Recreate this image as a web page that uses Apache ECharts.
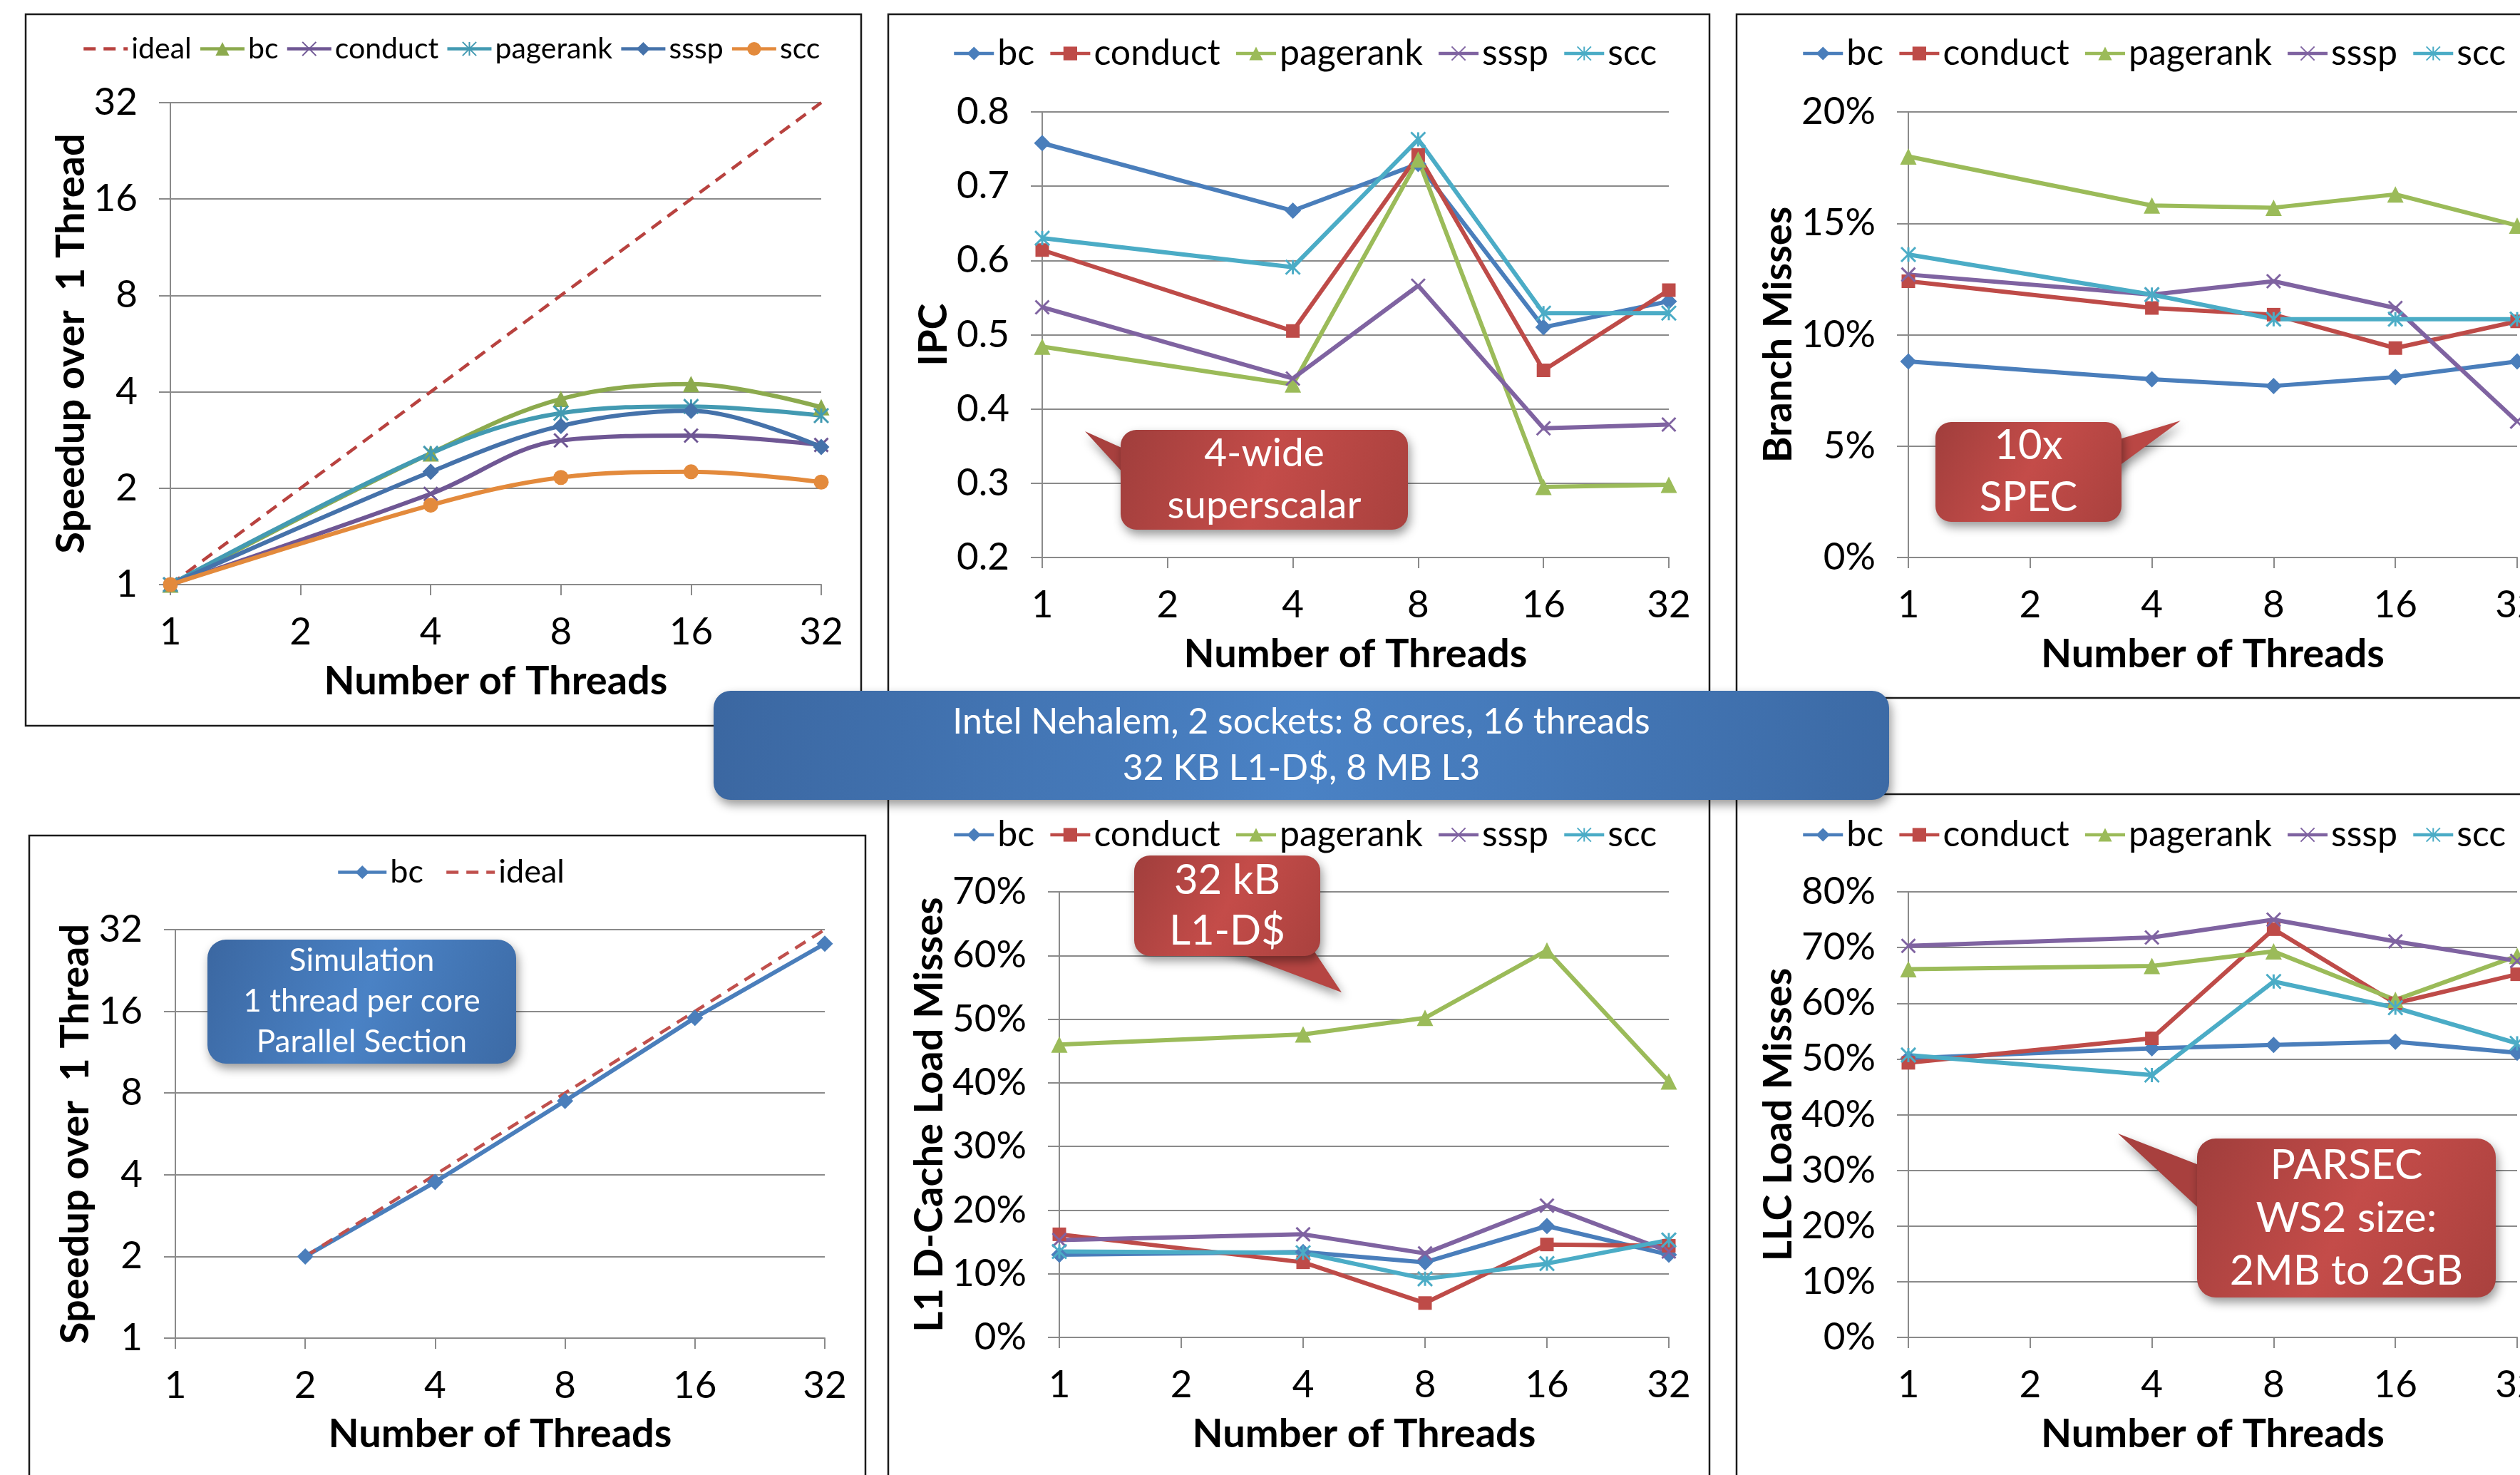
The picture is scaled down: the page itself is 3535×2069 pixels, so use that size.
<!DOCTYPE html>
<html>
<head>
<meta charset="utf-8">
<script src="https://cdn.jsdelivr.net/npm/echarts@6/dist/echarts.min.js"></script>
<style>
  html, body { margin: 0; padding: 0; background: #fff; }
  #chart { width: 3535px; height: 2069px; }
</style>
</head>
<body>
<div id="chart"></div>
<script>
// ---- shared x categories: thread counts ----
const threadTicks = ['1', '2', '4', '8', '16', '32'];

// ---- Speedup over 1 thread (native Nehalem runs) ----
const speedIdeal    = [1, 2, 4, 8, 16, 32];
const speedBc       = [1, null, 2.57, 3.80, 4.23, 3.58];
const speedConduct  = [1, null, 1.92, 2.82, 2.92, 2.73];
const speedPagerank = [1, null, 2.57, 3.43, 3.60, 3.37];
const speedSssp     = [1, null, 2.25, 3.13, 3.49, 2.69];
const speedScc      = [1, null, 1.77, 2.16, 2.25, 2.09];

// ---- IPC ----
const ipcBc       = [0.758, null, 0.667, 0.730, 0.510, 0.545];
const ipcConduct  = [0.614, null, 0.505, 0.742, 0.452, 0.560];
const ipcPagerank = [0.484, null, 0.433, 0.736, 0.295, 0.298];
const ipcSssp     = [0.537, null, 0.441, 0.566, 0.374, 0.379];
const ipcScc      = [0.630, null, 0.591, 0.763, 0.529, 0.529];

// ---- Branch misses (%) ----
const brBc       = [8.8, null, 8.0, 7.7, 8.1, 8.8];
const brConduct  = [12.4, null, 11.2, 10.9, 9.4, 10.6];
const brPagerank = [18.0, null, 15.8, 15.7, 16.3, 14.9];
const brSssp     = [12.7, null, 11.8, 12.4, 11.2, 6.1];
const brScc      = [13.6, null, 11.8, 10.7, 10.7, 10.7];

// ---- Simulated speedup (parallel section, 1 thread per core) ----
const simBc    = [null, 2.0, 3.76, 7.48, 15.15, 28.4];
const simIdeal = [null, 2, 4, 8, 16, 32];

// ---- L1 D-cache load misses (%) ----
const l1Bc       = [13.0, null, 13.4, 11.8, 17.5, 13.0];
const l1Conduct  = [16.2, null, 11.8, 5.4, 14.6, 14.4];
const l1Pagerank = [46.0, null, 47.6, 50.2, 60.8, 40.2];
const l1Sssp     = [15.3, null, 16.2, 13.2, 20.7, 13.5];
const l1Scc      = [13.5, null, 13.3, 9.2, 11.6, 15.3];

// ---- LLC load misses (%) ----
const llcBc       = [50.1, null, 51.9, 52.5, 53.1, 51.1];
const llcConduct  = [49.3, null, 53.7, 73.3, 60.0, 65.2];
const llcPagerank = [66.1, null, 66.7, 69.3, 60.6, 68.5];
const llcSssp     = [70.3, null, 71.8, 75.0, 71.1, 67.6];
const llcScc      = [50.7, null, 47.1, 63.9, 59.2, 52.8];

// ---- styling ----
const FONT = 'Lato';
const GRID_GRAY = '#8a8a8a';
const COL = {
  blue: '#4A7EBB', red: '#BE4B48', green: '#9BBB59',
  purple: '#7F63A1', aqua: '#4BACC6', orange: '#F79646', ideal: '#C0504D'
};
// the speedup panel uses the deeper shade of the palette
const DEEP = {
  blue: '#4572AA', green: '#8CAA4E', purple: '#6F5794', aqua: '#439AB2', orange: '#E38A3C', ideal: '#B8423F'
};
const SYM = {
  diamond: 'diamond', square: 'rect', triangle: 'triangle', circle: 'circle',
  cross: 'path://M0,0L10,10M10,0L0,10',
  star: 'path://M0,0L10,10M10,0L0,10M5,0L5,10',
  none: 'none'
};
const SYM_SIZE = { diamond: 23, square: 19, triangle: 23, circle: 21, cross: 19, star: 20, none: 0 };

// one entry per panel: [label, data, color, symbol, dashed]
const panels = [
  {
    grid: { left: 239, top: 144, width: 913, height: 676 },
    y: { type: 'log', min: 1, max: 32, fmt: v => String(Math.round(v)) },
    yName: 'Speedup over  1 Thread', yGap: 108, xGap: 108, smooth: true,
    legend: { cx: 626, cy: 68, size: 41, iw: 62, gap: 10 },
    series: [
      ['ideal', speedIdeal, DEEP.ideal, 'none', true],
      ['bc', speedBc, DEEP.green, 'triangle'],
      ['conduct', speedConduct, DEEP.purple, 'cross'],
      ['pagerank', speedPagerank, DEEP.aqua, 'star'],
      ['sssp', speedSssp, DEEP.blue, 'diamond'],
      ['scc', speedScc, DEEP.orange, 'circle']
    ]
  },
  {
    grid: { left: 1462, top: 157, width: 879, height: 625 },
    y: { type: 'value', min: 0.2, max: 0.8, interval: 0.1, fmt: v => v.toFixed(1) },
    yName: 'IPC', yGap: 124, xGap: 108,
    legend: { cx: 1824, cy: 75, size: 50, iw: 56, gap: 20 },
    series: [
      ['bc', ipcBc, COL.blue, 'diamond'],
      ['conduct', ipcConduct, COL.red, 'square'],
      ['pagerank', ipcPagerank, COL.green, 'triangle'],
      ['sssp', ipcSssp, COL.purple, 'cross'],
      ['scc', ipcScc, COL.aqua, 'star']
    ]
  },
  {
    grid: { left: 2677, top: 157, width: 854, height: 625 },
    y: { type: 'value', min: 0, max: 20, interval: 5, fmt: v => v + '%' },
    yName: 'Branch Misses', yGap: 150, xGap: 108,
    legend: { cx: 3015, cy: 75, size: 50, iw: 56, gap: 20 },
    series: [
      ['bc', brBc, COL.blue, 'diamond'],
      ['conduct', brConduct, COL.red, 'square'],
      ['pagerank', brPagerank, COL.green, 'triangle'],
      ['sssp', brSssp, COL.purple, 'cross'],
      ['scc', brScc, COL.aqua, 'star']
    ]
  },
  {
    grid: { left: 246, top: 1304, width: 911, height: 573 },
    y: { type: 'log', min: 1, max: 32, fmt: v => String(Math.round(v)) },
    yName: 'Speedup over  1 Thread', yGap: 112, xGap: 107,
    legend: { cx: 630, cy: 1223, size: 45, iw: 68, gap: 30 },
    series: [
      ['bc', simBc, COL.blue, 'diamond'],
      ['ideal', simIdeal, COL.ideal, 'none', true]
    ]
  },
  {
    grid: { left: 1486, top: 1251, width: 855, height: 625 },
    y: { type: 'value', min: 0, max: 70, interval: 10, fmt: v => v + '%' },
    yName: 'L1 D-Cache Load Misses', yGap: 148, xGap: 108,
    legend: { cx: 1824, cy: 1171, size: 50, iw: 56, gap: 20 },
    series: [
      ['bc', l1Bc, COL.blue, 'diamond'],
      ['conduct', l1Conduct, COL.red, 'square'],
      ['pagerank', l1Pagerank, COL.green, 'triangle'],
      ['sssp', l1Sssp, COL.purple, 'cross'],
      ['scc', l1Scc, COL.aqua, 'star']
    ]
  },
  {
    grid: { left: 2677, top: 1251, width: 854, height: 625 },
    y: { type: 'value', min: 0, max: 80, interval: 10, fmt: v => v + '%' },
    yName: 'LLC Load Misses', yGap: 150, xGap: 108,
    legend: { cx: 3015, cy: 1171, size: 50, iw: 56, gap: 20 },
    series: [
      ['bc', llcBc, COL.blue, 'diamond'],
      ['conduct', llcConduct, COL.red, 'square'],
      ['pagerank', llcPagerank, COL.green, 'triangle'],
      ['sssp', llcSssp, COL.purple, 'cross'],
      ['scc', llcScc, COL.aqua, 'star']
    ]
  }
];

// text measurement, used to centre each legend over its panel
const measureCtx = document.createElement('canvas').getContext('2d');
function textWidth(str, size) {
  measureCtx.font = size + 'px ' + FONT;
  return measureCtx.measureText(str).width;
}

const grids = [], xAxes = [], yAxes = [], legends = [], series = [];
const TITLE_STYLE = { fontSize: 56, fontWeight: 'bold', fontFamily: FONT, color: '#000' };
const TICK_STYLE = { color: '#000', fontSize: 53, fontFamily: FONT };

panels.forEach((p, gi) => {
  grids.push(Object.assign({ outerBoundsMode: 'none', containLabel: false }, p.grid));

  xAxes.push({
    gridIndex: gi, type: 'category', data: threadTicks, boundaryGap: false,
    axisLine: { show: true, onZero: false, lineStyle: { color: GRID_GRAY, width: 2 } },
    axisTick: { show: true, length: 15, interval: 0, lineStyle: { color: GRID_GRAY, width: 2 } },
    axisLabel: Object.assign({ interval: 0, margin: 40 }, TICK_STYLE),
    splitLine: { show: false },
    name: 'Number of Threads', nameLocation: 'middle', nameGap: p.xGap,
    nameTextStyle: TITLE_STYLE
  });

  const y = {
    gridIndex: gi, type: p.y.type, min: p.y.min, max: p.y.max,
    axisLine: { show: true, onZero: false, lineStyle: { color: GRID_GRAY, width: 2 } },
    axisTick: { show: true, length: 16, lineStyle: { color: GRID_GRAY, width: 2 } },
    axisLabel: Object.assign({ margin: 46, formatter: p.y.fmt }, TICK_STYLE),
    splitLine: { show: true, lineStyle: { color: GRID_GRAY, width: 2 } },
    name: p.yName, nameLocation: 'middle', nameGap: p.yGap, nameRotate: 90,
    nameTextStyle: TITLE_STYLE
  };
  if (p.y.type === 'log') { y.logBase = 2; y.splitNumber = 5; }
  else { y.interval = p.y.interval; }
  yAxes.push(y);

  const legendData = [];
  p.series.forEach(([label, data, color, sym, dashed]) => {
    const id = label + '@' + gi;
    legendData.push(sym === 'none' ? { name: id, itemStyle: { opacity: 0 } } : { name: id });
    const stroked = sym === 'cross' || sym === 'star';
    series.push({
      type: 'line', name: id, xAxisIndex: gi, yAxisIndex: gi, data: data,
      connectNulls: true, smooth: p.smooth ? 0.35 : false,
      symbol: SYM[sym], symbolSize: SYM_SIZE[sym], showSymbol: sym !== 'none',
      lineStyle: { color: color, width: dashed ? 4.5 : 6, type: dashed ? [17, 11] : 'solid' },
      itemStyle: { color: color, borderColor: color, borderWidth: stroked ? 3 : 0 },
      emphasis: { disabled: true }, animation: false
    });
  });

  const L = p.legend;
  let total = 0;
  p.series.forEach(([label], i) => {
    total += L.iw + 5 + textWidth(label, L.size) + (i ? L.gap : 0);
  });
  legends.push({
    data: legendData, orient: 'horizontal', padding: 0,
    left: Math.round(L.cx - total / 2), top: Math.round(L.cy - L.size / 2),
    itemWidth: L.iw, itemHeight: 24, itemGap: L.gap,
    lineStyle: { width: 4.5 },
    formatter: n => n.split('@')[0],
    textStyle: { fontSize: L.size, fontFamily: FONT, color: '#000' },
    selectedMode: false
  });
});

// ---- panel frames ----
const frames = [
  [36, 20, 1172, 998], [1246, 20, 1152, 955], [2436, 20, 1200, 959],
  [41, 1172, 1173, 1000], [1246, 1114, 1152, 1000], [2436, 1114, 1200, 1000]
];
const graphics = frames.map(([x, y, w, h]) => ({
  type: 'rect', z: 1, shape: { x: x, y: y, width: w, height: h },
  style: { fill: 'none', stroke: '#1a1a1a', lineWidth: 2.5 }
}));

const SHADOW = { shadowBlur: 14, shadowOffsetX: 3, shadowOffsetY: 7, shadowColor: 'rgba(0,0,0,0.4)' };
const redFill = {
  type: 'linear', x: 0, y: 0, x2: 1, y2: 1,
  colorStops: [{ offset: 0, color: '#A03E3C' }, { offset: 0.5, color: '#C44C49' }, { offset: 1, color: '#A9413E' }]
};
const blueFill = {
  type: 'linear', x: 0, y: 0, x2: 1, y2: 1,
  colorStops: [{ offset: 0, color: '#3B67A1' }, { offset: 0.5, color: '#4A82C5' }, { offset: 1, color: '#3C6AA5' }]
};

function callout(rect, pointer, fill, pointerColor, text, size, lineHeight) {
  const [x, y, w, h, r] = rect;
  if (pointer) {
    graphics.push({
      type: 'polygon', z: 60, shape: { points: pointer },
      style: Object.assign({ fill: pointerColor }, SHADOW)
    });
  }
  graphics.push({
    type: 'rect', z: 61, shape: { x: x, y: y, width: w, height: h, r: r },
    style: Object.assign({ fill: fill }, SHADOW)
  });
  graphics.push({
    type: 'text', z: 62, x: x + w / 2, y: y + h / 2,
    style: {
      text: text, fill: '#fff', fontSize: size, fontFamily: FONT, lineHeight: lineHeight,
      align: 'center', verticalAlign: 'middle', textAlign: 'center', textVerticalAlign: 'middle'
    }
  });
}

// annotations
callout([1572, 603, 403, 140, 22], [[1522, 605], [1600, 640], [1600, 690]], redFill, '#A8403E',
        '4-wide\nsuperscalar', 55, 73);
callout([2715, 592, 261, 140, 22], [[3059, 590], [2950, 623], [2950, 670]], redFill, '#BA4744',
        '10x\nSPEC', 58, 73);
callout([1591, 1200, 261, 141, 22], [[1882, 1392], [1691, 1320], [1834, 1320]], redFill, '#B64542',
        '32 kB\nL1-D$', 58, 71);
callout([3082, 1597, 419, 223, 26], [[2971, 1590], [3105, 1642], [3105, 1714]], redFill, '#A8403E',
        'PARSEC\nWS2 size:\n2MB to 2GB', 59, 74);
callout([291, 1318, 433, 174, 26], null, blueFill, null,
        'Simulation\n1 thread per core\nParallel Section', 44, 57);
// machine description banner
callout([1001, 969, 1649, 153, 24], null, blueFill, null,
        'Intel Nehalem, 2 sockets: 8 cores, 16 threads\n32 KB L1-D$, 8 MB L3', 50, 65);

const chart = echarts.init(document.getElementById('chart'), null, { renderer: 'canvas', width: 3535, height: 2069 });
chart.setOption({
  animation: false,
  backgroundColor: '#ffffff',
  grid: grids, xAxis: xAxes, yAxis: yAxes, legend: legends,
  series: series, graphic: graphics
});
</script>
</body>
</html>
